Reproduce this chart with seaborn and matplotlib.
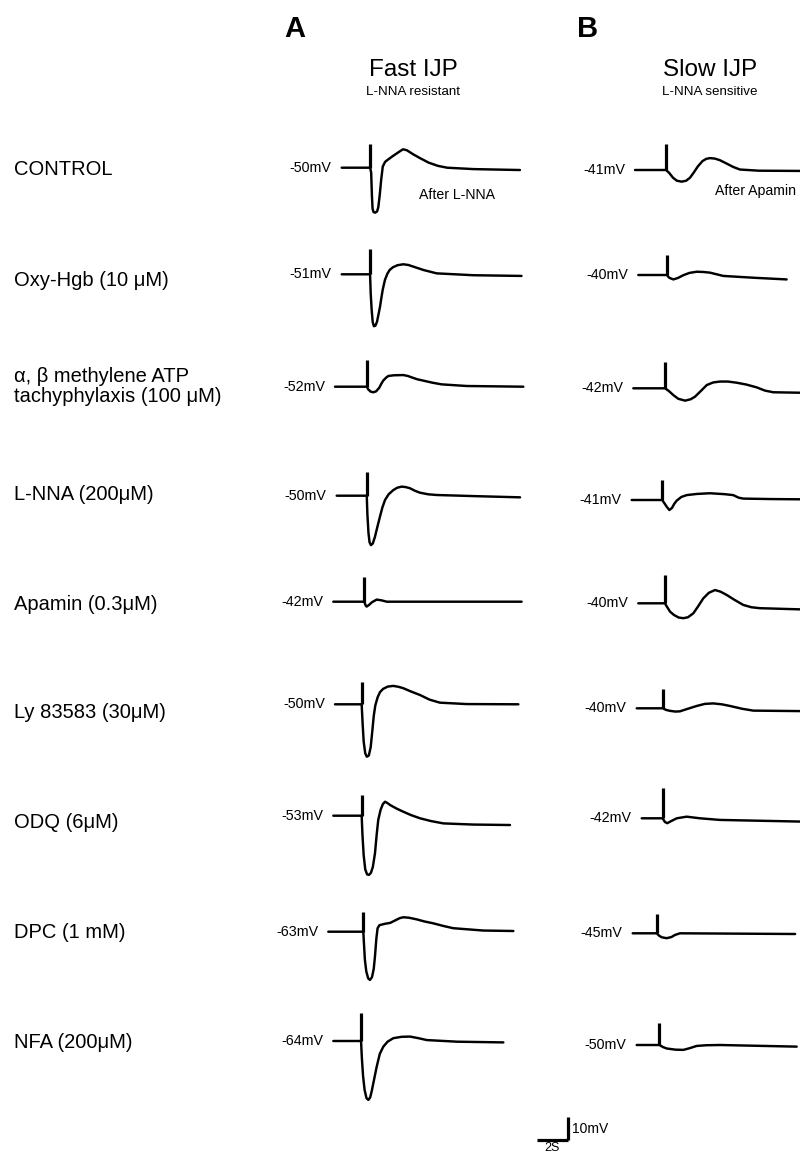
import numpy as np
import pandas as pd
import matplotlib
matplotlib.use("Agg")
import matplotlib.pyplot as plt
import seaborn as sns

# ---------------- data (time in s, deflection in mV from resting potential) ----------------
ROW_LABELS = ["CONTROL", "Oxy-Hgb (10 \u03bcM)", "\u03b1, \u03b2 methylene ATP\ntachyphylaxis (100 \u03bcM)",
              "L-NNA (200\u03bcM)", "Apamin (0.3\u03bcM)", "Ly 83583 (30\u03bcM)", "ODQ (6\u03bcM)",
              "DPC (1 mM)", "NFA (200\u03bcM)"]

FAST_RMP = ["-50mV", "-51mV", "-52mV", "-50mV", "-42mV", "-50mV", "-53mV", "-63mV", "-64mV"]
SLOW_RMP = ["-41mV", "-40mV", "-42mV", "-41mV", "-40mV", "-40mV", "-42mV", "-45mV", "-50mV"]

# stimulus artefact: time (s) and height (mV)
FAST_STIM_T = [1.83, 1.83, 2.05, 1.94, 2.00, 1.72, 1.83, 2.26, 1.79]
FAST_STIM_H = [10.2, 11.0, 11.4, 10.3, 10.7, 9.7, 8.9, 8.6, 11.9]
SLOW_STIM_T = [2.00, 1.83, 2.05, 1.97, 1.72, 1.68, 1.35, 1.55, 1.46]
SLOW_STIM_H = [11.2, 8.6, 11.4, 8.6, 12.2, 8.2, 13.1, 8.3, 9.3]

FAST_CONTROL = [(0, 0), (1.83, 0), (1.9, -2), (1.95, -12), (1.99, -17.5), (2.05, -19), (2.15, -19.3),
                (2.28, -18.8), (2.36, -17), (2.45, -12), (2.55, -5), (2.65, 0.5), (2.8, 2.5), (2.95, 3.3),
                (3.3, 5.0), (3.7, 6.8), (3.95, 7.9), (4.2, 7.5), (4.6, 5.8), (5.0, 4.3), (5.6, 2.2),
                (6.2, 0.8), (6.8, 0), (8.5, -0.6), (11.5, -1)]
FAST_OXYHGB = [(0, 0), (1.83, 0), (1.87, -8), (1.93, -15), (2.0, -20.5), (2.08, -22.3), (2.18, -22),
               (2.28, -20.3), (2.38, -17), (2.47, -14), (2.55, -10.5), (2.65, -6.5), (2.79, -2.4),
               (2.95, 0.3), (3.1, 1.9), (3.3, 3.0), (3.6, 3.9), (3.97, 4.3), (4.3, 4.0), (4.62, 3.3),
               (5.3, 1.8), (6.13, 0.4), (8.5, -0.4), (11.6, -0.7)]
FAST_ABMEATP = [(0, 0), (2.05, 0), (2.15, -1.2), (2.3, -2.1), (2.47, -2.4), (2.65, -2.0), (2.85, -0.5),
                (3.0, 1.4), (3.12, 2.7), (3.3, 3.9), (3.44, 4.6), (3.8, 4.9), (4.41, 5), (4.7, 4.6),
                (4.95, 4), (5.3, 3.2), (5.7, 2.6), (6.3, 1.7), (6.88, 1), (8.5, 0.3), (12.15, 0)]
FAST_LNNA = [(0, 0), (1.94, 0), (1.98, -8), (2.05, -16), (2.12, -20), (2.21, -21.2), (2.33, -20.5),
             (2.47, -17.6), (2.62, -13.5), (2.79, -9), (2.95, -5), (3.12, -1.8), (3.35, 0.6), (3.65, 2.4),
             (3.9, 3.4), (4.19, 3.9), (4.45, 3.7), (4.73, 3.2), (5.05, 2.1), (5.37, 1.3), (5.9, 0.6),
             (6.45, 0.3), (9, -0.2), (11.83, -0.7)]
FAST_APAMIN = [(0, 0), (2.0, 0), (2.08, -1.5), (2.15, -2.1), (2.3, -1.4), (2.5, -0.2), (2.8, 0.9),
               (3.1, 0.6), (3.45, 0), (12.15, 0)]
FAST_LY = [(0, 0), (1.72, 0), (1.78, -8), (1.85, -16), (1.95, -21), (2.05, -22.5), (2.18, -22),
           (2.3, -18.5), (2.4, -12), (2.5, -5), (2.6, -0.5), (2.75, 3), (2.9, 5.2), (3.1, 6.6),
           (3.4, 7.6), (3.76, 7.9), (4.1, 7.5), (4.41, 6.9), (4.9, 5.5), (5.48, 4), (6.1, 2.0),
           (6.77, 0.7), (8.5, 0.1), (11.83, 0)]
FAST_ODQ = [(0, 0), (1.83, 0), (1.88, -8), (1.96, -17), (2.06, -23), (2.18, -25.2), (2.3, -25.4),
            (2.43, -24.5), (2.55, -22), (2.69, -16.1), (2.8, -8), (2.9, -1.8), (3.05, 2.5), (3.2, 5),
            (3.34, 6), (3.5, 5.4), (3.66, 4.6), (4.1, 3), (4.52, 1.7), (5.0, 0.3), (5.59, -1.1),
            (6.3, -2.3), (7.1, -3.3), (9, -3.8), (11.4, -4)]
FAST_DPC = [(0, 0), (2.26, 0), (2.3, -5), (2.36, -12), (2.45, -17), (2.57, -20), (2.69, -20.7),
            (2.82, -19.5), (2.93, -16), (3.01, -10.7), (3.1, -3), (3.18, 1.5), (3.3, 2.8), (3.66, 3.4),
            (4.0, 3.8), (4.3, 4.8), (4.6, 5.8), (4.84, 6.2), (5.2, 6.0), (5.7, 5.3), (6.2, 4.4),
            (6.77, 3.6), (7.4, 2.5), (8.06, 1.5), (10, 0.5), (11.94, 0.3)]
FAST_NFA = [(0, 0), (1.79, 0), (1.84, -7), (1.92, -15), (2.02, -21), (2.14, -24.5), (2.26, -25.3),
            (2.38, -24.2), (2.48, -21.5), (2.58, -18.2), (2.8, -11), (3.0, -5.5), (3.23, -2.4),
            (3.5, -0.3), (3.87, 1.2), (4.4, 1.8), (4.95, 1.9), (5.5, 1.2), (6.03, 0.4), (8, -0.3),
            (10.97, -0.6)]

SLOW_CONTROL = [(0, 0), (2.0, 0), (2.2, -1.2), (2.45, -3.3), (2.7, -4.6), (3.01, -5), (3.3, -4.6),
                (3.55, -3.3), (3.8, -1), (4.05, 1.5), (4.35, 3.8), (4.6, 4.8), (4.84, 5.1), (5.15, 4.9),
                (5.48, 4.2), (5.9, 2.8), (6.34, 1.3), (6.77, 0.2), (8, -0.3), (10.65, -0.4)]
SLOW_OXYHGB = [(0, 0), (1.83, 0), (2.0, -1.2), (2.26, -1.9), (2.55, -1.3), (2.9, -0.1), (3.3, 0.9),
               (3.77, 1.4), (4.2, 1.3), (4.63, 1), (5.48, -0.4), (7.5, -1.2), (9.57, -1.9)]
SLOW_ABMEATP = [(0, 0), (2.05, 0), (2.3, -1.2), (2.58, -2.9), (2.9, -4.5), (3.34, -5.3), (3.7, -4.7),
                (3.98, -3.6), (4.35, -1.2), (4.74, 1.4), (5.15, 2.5), (5.59, 2.9), (6.1, 2.9),
                (6.67, 2.4), (7.3, 1.6), (7.96, 0.4), (8.5, -1.0), (9.03, -1.7), (10.75, -1.9)]
SLOW_LNNA = [(0, 0), (1.97, 0), (2.1, -1.3), (2.26, -2.9), (2.43, -4.3), (2.6, -3.4), (2.75, -1.6),
             (2.9, -0.3), (3.2, 1.3), (3.55, 2.1), (4.2, 2.6), (5.05, 2.9), (6.0, 2.5), (6.55, 2.1),
             (6.9, 1.0), (7.2, 0.6), (9, 0.4), (10.86, 0.3)]
SLOW_APAMIN = [(0, 0), (1.72, 0), (1.85, -1.5), (2.05, -3.6), (2.3, -5.0), (2.6, -6.1), (2.9, -6.4),
               (3.2, -6.0), (3.55, -4.3), (3.85, -1.4), (4.19, 2.1), (4.55, 4.5), (4.95, 5.7), (5.3, 5.0),
               (5.7, 3.6), (6.2, 1.5), (6.77, -0.7), (7.3, -1.7), (7.85, -2.1), (10.43, -2.6)]
SLOW_LY = [(0, 0), (1.68, 0), (1.9, -0.7), (2.15, -1.1), (2.5, -1.4), (2.79, -1.3), (3.3, -0.2),
           (3.87, 1), (4.4, 1.9), (4.94, 2.1), (5.5, 1.7), (6.02, 1), (6.8, -0.2), (7.52, -1),
           (10.54, -1.2)]
SLOW_ODQ = [(0, 0), (1.35, 0), (1.5, -1.6), (1.65, -2.1), (1.9, -1.2), (2.26, 0), (2.9, 0.7),
            (3.76, 0), (5.05, -0.7), (10.21, -1.4)]
SLOW_DPC = [(0, 0), (1.55, 0), (1.7, -1.0), (1.87, -1.7), (2.19, -2.1), (2.5, -1.6), (2.73, -0.7),
            (3.05, 0), (10.48, -0.3)]
SLOW_NFA = [(0, 0), (1.46, 0), (1.7, -0.9), (1.94, -1.5), (2.5, -2.0), (3.01, -2.1), (3.4, -1.4),
            (3.87, -0.4), (4.5, -0.1), (5.37, 0), (10.32, -0.7)]

FAST_TRACES = [FAST_CONTROL, FAST_OXYHGB, FAST_ABMEATP, FAST_LNNA, FAST_APAMIN, FAST_LY,
               FAST_ODQ, FAST_DPC, FAST_NFA]
SLOW_TRACES = [SLOW_CONTROL, SLOW_OXYHGB, SLOW_ABMEATP, SLOW_LNNA, SLOW_APAMIN, SLOW_LY,
               SLOW_ODQ, SLOW_DPC, SLOW_NFA]

SCALE_TIME_S = 2
SCALE_MV = 10

# ---------------- layout (pixels) ----------------
W, H = 800, 1154
PX_PER_S = 15.5
PX_PER_MV = 2.33
FAST_X0 = [341.7, 341.7, 335, 336.7, 333.3, 335, 333.3, 328.3, 333.3]
FAST_Y0 = [167.7, 274.3, 386.7, 495.7, 601.7, 704.3, 815.7, 931.7, 1041]
SLOW_X0 = [635, 638.3, 633.3, 631.7, 638.3, 636.7, 641.7, 632.7, 636.7]
SLOW_Y0 = [170, 275, 388.3, 500, 603.3, 708.3, 818.3, 933.3, 1045]
LABEL_Y = [169.5, 281, (377, 397), 495, 605, 713, 822, 932, 1043]

sns.set_theme(style="white")
plt.rcParams["font.family"] = ["Liberation Sans", "DejaVu Sans"]
plt.rcParams["text.color"] = "black"

fig = plt.figure(figsize=(W / 100, H / 100), dpi=100)
fig.patch.set_facecolor("white")

T_MIN, T_MAX = 0, 13
V_MIN, V_MAX = -30, 16
LW_TRACE = 1.75
LW_STIM = 2.3


def fx(px):
    return px / W


def fy(py):
    return 1 - py / H


def trace_axes(x0, y0):
    wpx = (T_MAX - T_MIN) * PX_PER_S
    hpx = (V_MAX - V_MIN) * PX_PER_MV
    bottom_px = y0 + (-V_MIN) * PX_PER_MV
    ax = fig.add_axes([fx(x0), fy(bottom_px), wpx / W, hpx / H])
    ax.set_xlim(T_MIN, T_MAX)
    ax.set_ylim(V_MIN, V_MAX)
    ax.axis("off")
    ax.patch.set_alpha(0)
    return ax


def draw_trace(ax, pts, stim_t, stim_h):
    df = pd.DataFrame(pts, columns=["t", "v"])
    sns.lineplot(data=df, x="t", y="v", sort=False, estimator=None, color="black",
                 linewidth=LW_TRACE, ax=ax, legend=False)
    ax.vlines(stim_t, 0, stim_h, color="black", linewidth=LW_STIM)
    for ln in ax.lines:
        ln.set_solid_joinstyle("round")
        ln.set_solid_capstyle("round")
        ln.set_clip_on(False)


for i in range(9):
    ax = trace_axes(FAST_X0[i], FAST_Y0[i])
    draw_trace(ax, FAST_TRACES[i], FAST_STIM_T[i], FAST_STIM_H[i])
    fig.text(fx(FAST_X0[i] - 10), fy(FAST_Y0[i]), FAST_RMP[i], ha="right", va="center", fontsize=10.3)

    ax = trace_axes(SLOW_X0[i], SLOW_Y0[i])
    draw_trace(ax, SLOW_TRACES[i], SLOW_STIM_T[i], SLOW_STIM_H[i])
    fig.text(fx(SLOW_X0[i] - 10), fy(SLOW_Y0[i]), SLOW_RMP[i], ha="right", va="center", fontsize=10.3)

# row labels
for lab, ly in zip(ROW_LABELS, LABEL_Y):
    lines = lab.split("\n")
    ys = ly if isinstance(ly, tuple) else (ly,)
    for line, yy in zip(lines, ys):
        fig.text(fx(14), fy(yy), line, ha="left", va="center", fontsize=14.5)

# headers
fig.text(fx(295), fy(29), "A", ha="center", va="center", fontsize=21, fontweight="bold")
fig.text(fx(587.5), fy(29), "B", ha="center", va="center", fontsize=21, fontweight="bold")
fig.text(fx(413), fy(70), "Fast IJP", ha="center", va="center", fontsize=17.5)
fig.text(fx(413), fy(92), "L-NNA resistant", ha="center", va="center", fontsize=9.6)
fig.text(fx(710), fy(70), "Slow IJP", ha="center", va="center", fontsize=17.5)
fig.text(fx(710), fy(92), "L-NNA sensitive", ha="center", va="center", fontsize=9.6)

fig.text(fx(419), fy(195), "After L-NNA", ha="left", va="center", fontsize=10.2)
fig.text(fx(715), fy(191), "After Apamin", ha="left", va="center", fontsize=10.2)

# scale bar
sb = trace_axes(537.3, 1140)
sb.plot([0, SCALE_TIME_S], [0, 0], color="black", linewidth=LW_STIM, solid_capstyle="butt")
sb.plot([SCALE_TIME_S, SCALE_TIME_S], [0, SCALE_MV], color="black", linewidth=LW_STIM,
        solid_capstyle="butt")
for ln in sb.lines:
    ln.set_clip_on(False)
fig.text(fx(572), fy(1129), f"{SCALE_MV}mV", ha="left", va="center", fontsize=10)
fig.text(fx(552), fy(1148.3), f"{SCALE_TIME_S}S", ha="center", va="center", fontsize=9)

fig.savefig("out.png", dpi=100, facecolor="white")
